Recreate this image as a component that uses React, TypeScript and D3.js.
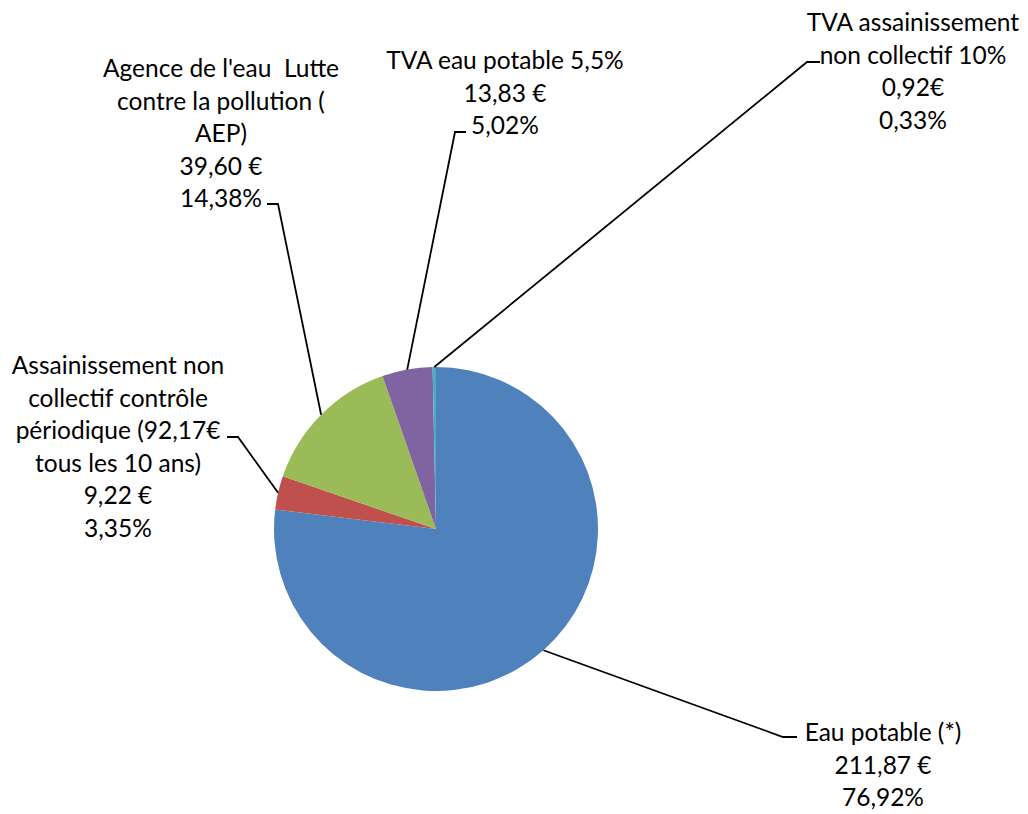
import React from "react";
import * as d3 from "d3";

const categories: string[][] = [
  ["Eau potable (*)"],
  ["Assainissement non", "collectif contrôle", "périodique (92,17€", "tous les 10 ans)"],
  ["Agence de l'eau  Lutte", "contre la pollution (", "AEP)"],
  ["TVA eau potable 5,5%"],
  ["TVA assainissement", "non collectif 10%"],
];
const values: number[] = [211.87, 9.22, 39.6, 13.83, 0.92];
const valueLabels: string[] = ["211,87 €", "9,22 €", "39,60 €", "13,83 €", "0,92€"];
const colors: string[] = ["#4F81BD", "#C0504D", "#9BBB59", "#8064A2", "#4BACC6"];

// label layout: text center x, first line center y, elbow point, end of horizontal tick
const labelLayout = [
  { cx: 883, y0: 732, elbow: [783, 737], tick: [797, 737] },
  { cx: 118, y0: 365, elbow: [238, 437], tick: [227, 437] },
  { cx: 221, y0: 68, elbow: [278, 204], tick: [267, 204] },
  { cx: 505, y0: 60, elbow: [455, 132], tick: [466, 132] },
  { cx: 913, y0: 22, elbow: [807, 62], tick: [820, 62] },
];

const W = 1028;
const H = 814;
const CX = 436;
const CY = 529;
const R = 162;
const LINE_H = 32.5;

export default function App() {
  const total = d3.sum(values);
  const pie = d3.pie<number>().sort(null).value((d) => d)(values);
  const arc = d3.arc<d3.PieArcDatum<number>>().innerRadius(0).outerRadius(R);
  const fmt = (v: number) => (v / total * 100).toFixed(2).replace(".", ",") + "%";

  return (
    <svg width={W} height={H} style={{ position: "absolute", left: 0, top: 0, background: "#fff" }}
      fontFamily="Lato, 'Open Sans', sans-serif" fontSize={24.5}>
      <rect width={W} height={H} fill="#fff" />
      <g transform={`translate(${CX},${CY})`}>
        {pie.map((p, i) => (
          <path key={i} d={arc(p) || ""} fill={colors[i]} />
        ))}
      </g>
      {pie.map((p, i) => {
        const mid = (p.startAngle + p.endAngle) / 2;
        const ex = CX + R * Math.sin(mid);
        const ey = CY - R * Math.cos(mid);
        const L = labelLayout[i];
        const lines = [...categories[i], valueLabels[i], fmt(values[i])];
        return (
          <g key={"l" + i}>
            <polyline
              points={`${ex},${ey} ${L.elbow[0]},${L.elbow[1]} ${L.tick[0]},${L.tick[1]}`}
              fill="none" stroke="#000" strokeWidth={1.8} />
            <text textAnchor="middle" fill="#000" style={{ whiteSpace: "pre" }}>
              {lines.map((t, j) => (
                <tspan key={j} x={L.cx} y={L.y0 + j * LINE_H + 9}>{t}</tspan>
              ))}
            </text>
          </g>
        );
      })}
    </svg>
  );
}
